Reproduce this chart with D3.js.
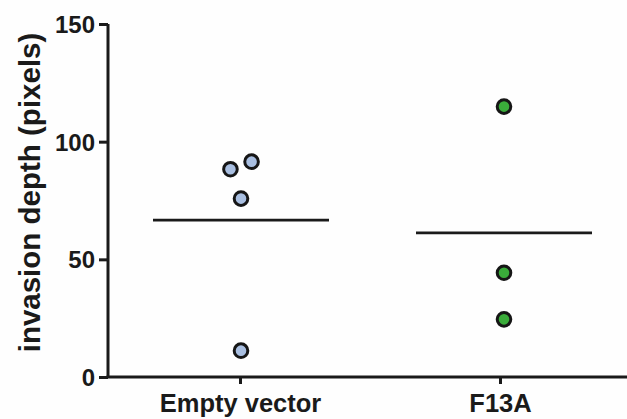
<!DOCTYPE html>
<html>
<head>
<meta charset="utf-8">
<script src="https://cdn.jsdelivr.net/npm/d3@7/dist/d3.min.js"></script>
<style>
  html, body { margin: 0; padding: 0; background: #fefefe; }
  svg { display: block; }
  text { font-family: "Liberation Sans", Arial, sans-serif; font-weight: bold; fill: #1a1a1a; }
</style>
</head>
<body>
<svg id="chart" width="627" height="419"></svg>
<script>
// Groups and their individual measurements
const categories = ["Empty vector", "F13A"];
const emptyVectorValues = [88.3, 91.5, 75.8, 11.2];
const f13aValues = [114.9, 44.3, 24.5];
// small horizontal spread of dots within a group (fraction of group width)
const emptyVectorSpread = [-0.04, 0.04, 0, 0];
const f13aSpread = [0, 0, 0];
const yTicks = [0, 50, 100, 150];
const groupColors = ["#a9bfe1", "#3aac3a"];

const seriesValues = [emptyVectorValues, f13aValues];
const seriesSpread = [emptyVectorSpread, f13aSpread];

const svg = d3.select("#chart");
const margin = { left: 108, right: 0, top: 24, bottom: 42 };
const W = 627, H = 419;

const x = d3.scalePoint()
  .domain(categories)
  .range([240, 500]);

const y = d3.scaleLinear()
  .domain([0, 150])
  .range([H - margin.bottom, margin.top]);

const groupWidth = 176;

// y axis
const yAxis = svg.append("g")
  .attr("transform", `translate(${margin.left},0)`)
  .call(d3.axisLeft(y).tickValues(yTicks).tickSize(9).tickPadding(4));
yAxis.select(".domain").attr("d", `M0,${y(150)}V${y(0)}`);

// x axis
const xAxis = svg.append("g")
  .attr("transform", `translate(0,${y(0)})`)
  .call(d3.axisBottom(x).tickSize(7).tickPadding(10));
xAxis.select(".domain").attr("d", `M${margin.left - 1.5},0H${W}`);

svg.selectAll(".domain").attr("stroke", "#1a1a1a").attr("stroke-width", 3);
svg.selectAll(".tick line").attr("stroke", "#1a1a1a").attr("stroke-width", 3);
yAxis.selectAll(".tick text").style("font-size", "24px").attr("fill", "#1a1a1a").attr("dy", "0.36em");
xAxis.selectAll(".tick text").style("font-size", "25.5px").attr("fill", "#1a1a1a");

// axis title
svg.append("text")
  .attr("transform", `translate(40,${(y(0) + y(150)) / 2 - 8}) rotate(-90)`)
  .attr("text-anchor", "middle")
  .style("font-size", "29.5px")
  .text("invasion depth (pixels)");

// group means
categories.forEach((c, i) => {
  const m = d3.mean(seriesValues[i]);
  const cx = x(c) + (i === 0 ? 1 : 4);
  svg.append("line")
    .attr("x1", cx - 88).attr("x2", cx + 88)
    .attr("y1", y(m)).attr("y2", y(m))
    .attr("stroke", "#1a1a1a").attr("stroke-width", 2.8);
});

// dots
categories.forEach((c, i) => {
  const cx = x(c) + (i === 0 ? 1 : 4);
  svg.append("g").selectAll("circle")
    .data(seriesValues[i])
    .join("circle")
    .attr("cx", (d, j) => cx + seriesSpread[i][j] * groupWidth * 1.5)
    .attr("cy", d => y(d))
    .attr("r", 6.8)
    .attr("fill", groupColors[i])
    .attr("stroke", "#161616")
    .attr("stroke-width", 3);
});
</script>
</body>
</html>
